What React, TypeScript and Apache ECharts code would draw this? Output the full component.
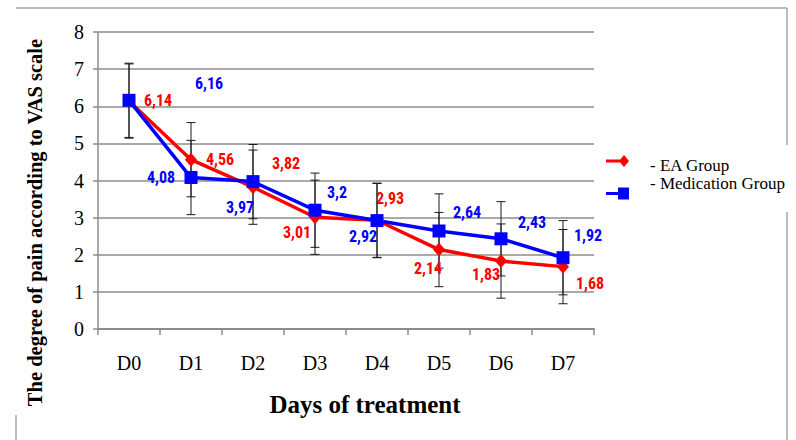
import React, { useEffect, useRef } from "react";
import * as echarts from "echarts";

const categories = ["D0", "D1", "D2", "D3", "D4", "D5", "D6", "D7"];
const eaValues = [6.14, 4.56, 3.82, 3.01, 2.93, 2.14, 1.83, 1.68];
const medValues = [6.16, 4.08, 3.97, 3.2, 2.92, 2.64, 2.43, 1.92];
const eaSD = [1, 1, 1, 1, 1, 1, 1, 1];
const medSD = [1, 1, 1, 1, 1, 1, 1, 1];
const yMin = 0;
const yMax = 8;
const yStep = 1;

// label placement (styling only)
const eaLabelOffsets = [[29, -1], [29, 0], [33, -24], [-18, 15], [13, -22], [-11, 19], [-15, 13], [27, 17]];
const medLabelOffsets = [[80, -17], [-30, 0], [-13, 26], [22, -18], [-14, 16], [28, -18], [31, -16], [25, -22]];

const RED = "#ff0000";
const BLUE = "#0000ff";
const GRID = "#8c8c8c";
const FRAME = "#a6a6a6";
const SERIF = "'Liberation Serif', 'Times New Roman', serif";
const NARROW = "'Roboto Condensed', Roboto, sans-serif";

const fmt = (v: number) => String(v).replace(".", ",");

function errorRender(params: any, api: any) {
  const x = api.value(0);
  const lo = api.coord([x, api.value(1)]);
  const hi = api.coord([x, api.value(2)]);
  const hw = 4.5;
  const st = { stroke: "#1a1a1a", lineWidth: 1 };
  return {
    type: "group",
    children: [
      { type: "line", shape: { x1: lo[0], y1: lo[1], x2: hi[0], y2: hi[1] }, style: st },
      { type: "line", shape: { x1: lo[0] - hw, y1: lo[1], x2: lo[0] + hw, y2: lo[1] }, style: st },
      { type: "line", shape: { x1: hi[0] - hw, y1: hi[1], x2: hi[0] + hw, y2: hi[1] }, style: st },
    ],
  };
}

export default function App() {
  const ref = useRef<HTMLDivElement>(null);
  useEffect(() => {
    if (!ref.current) return;
    const chart = echarts.init(ref.current, null, { renderer: "svg" });
    const labelBase = {
      show: true,
      position: "inside",
      fontFamily: NARROW,
      fontWeight: "bold",
      fontSize: 16,
      formatter: (p: any) => fmt(p.value),
    };
    chart.setOption({
      animation: false,
      backgroundColor: "#ffffff",
      grid: { left: 98, right: 202, top: 32, bottom: 111 },
      graphic: [
        { type: "line", shape: { x1: 16, y1: 8, x2: 787, y2: 8 }, style: { stroke: FRAME, lineWidth: 1.5 } },
        { type: "line", shape: { x1: 787, y1: 8, x2: 787, y2: 145 }, style: { stroke: FRAME, lineWidth: 1.5 } },
        { type: "line", shape: { x1: 787, y1: 212, x2: 787, y2: 440 }, style: { stroke: FRAME, lineWidth: 1.5 } },
        { type: "line", shape: { x1: 16, y1: 415, x2: 16, y2: 440 }, style: { stroke: FRAME, lineWidth: 1.5 } },
      ],
      legend: [
        {
          data: ["EA Group"],
          left: 606,
          top: 155,
          padding: 0,
          itemWidth: 23,
          itemHeight: 12,
          itemGap: 0,
          icon: "path://M0,4.5L18,4.5L18,7.5L0,7.5Z M18,0L23,6L18,12L13,6Z",
          formatter: (n: string) => "{t|- " + n + "}",
          textStyle: {
            rich: { t: { fontFamily: SERIF, fontSize: 17, color: "#000", padding: [8, 0, 0, 16] } },
          },
        },
        {
          data: ["Medication Group"],
          left: 606,
          top: 175,
          padding: 0,
          itemWidth: 23,
          itemHeight: 12,
          itemGap: 0,
          icon: "path://M0,4.5L14,4.5L14,7.5L0,7.5Z M12,0L23,0L23,12L12,12Z",
          formatter: (n: string) => "{t|- " + n + "}",
          textStyle: {
            rich: { t: { fontFamily: SERIF, fontSize: 17, color: "#000", padding: [0, 0, 20, 16] } },
          },
        },
      ],
      xAxis: {
        type: "category",
        data: categories,
        boundaryGap: true,
        name: "Days of treatment",
        nameLocation: "middle",
        nameGap: 63,
        nameTextStyle: {
          fontFamily: SERIF,
          fontWeight: "bold",
          fontSize: 25,
          color: "#000",
          padding: [0, 0, 0, 38],
        },
        axisLine: { lineStyle: { color: GRID, width: 2 } },
        axisTick: { show: true, length: 6, lineStyle: { color: GRID, width: 1.5 } },
        axisLabel: { fontFamily: SERIF, fontSize: 20, color: "#000", margin: 24 },
        splitLine: { show: false },
      },
      yAxis: {
        type: "value",
        min: yMin,
        max: yMax,
        interval: yStep,
        name: "The degree of pain according to VAS scale",
        nameLocation: "middle",
        nameGap: 53,
        nameTextStyle: {
          fontFamily: SERIF,
          fontWeight: "bold",
          fontSize: 20.5,
          color: "#000",
          padding: [0, 84, 0, 0],
        },
        axisLine: { show: true, lineStyle: { color: GRID, width: 1.5 } },
        axisTick: { show: true, length: 5, lineStyle: { color: GRID, width: 1.5 } },
        axisLabel: { fontFamily: SERIF, fontSize: 20, color: "#000", margin: 14 },
        splitLine: { lineStyle: { color: GRID, width: 1.5 } },
      },
      series: [
        {
          name: "EA Group err",
          type: "custom",
          renderItem: errorRender,
          encode: { x: 0, y: [1, 2] },
          data: eaValues.map((v, i) => [i, v - eaSD[i], v + eaSD[i]]),
          z: 1,
          silent: true,
        },
        {
          name: "Medication Group err",
          type: "custom",
          renderItem: errorRender,
          encode: { x: 0, y: [1, 2] },
          data: medValues.map((v, i) => [i, v - medSD[i], v + medSD[i]]),
          z: 1,
          silent: true,
        },
        {
          name: "EA Group",
          type: "line",
          data: eaValues.map((v, i) => ({
            value: v,
            label: { offset: eaLabelOffsets[i] },
          })),
          symbol: "diamond",
          symbolSize: [12, 14],
          lineStyle: { color: RED, width: 3.5 },
          itemStyle: { color: RED },
          label: { ...labelBase, color: RED },
          z: 3,
        },
        {
          name: "Medication Group",
          type: "line",
          data: medValues.map((v, i) => ({
            value: v,
            label: { offset: medLabelOffsets[i] },
          })),
          symbol: "rect",
          symbolSize: 13,
          lineStyle: { color: BLUE, width: 3.5 },
          itemStyle: { color: BLUE },
          label: { ...labelBase, color: BLUE },
          z: 4,
        },
      ],
    });
    return () => chart.dispose();
  }, []);
  return (
    <div
      ref={ref}
      style={{ position: "fixed", left: 0, top: 0, width: 796, height: 440, background: "#fff" }}
    />
  );
}
